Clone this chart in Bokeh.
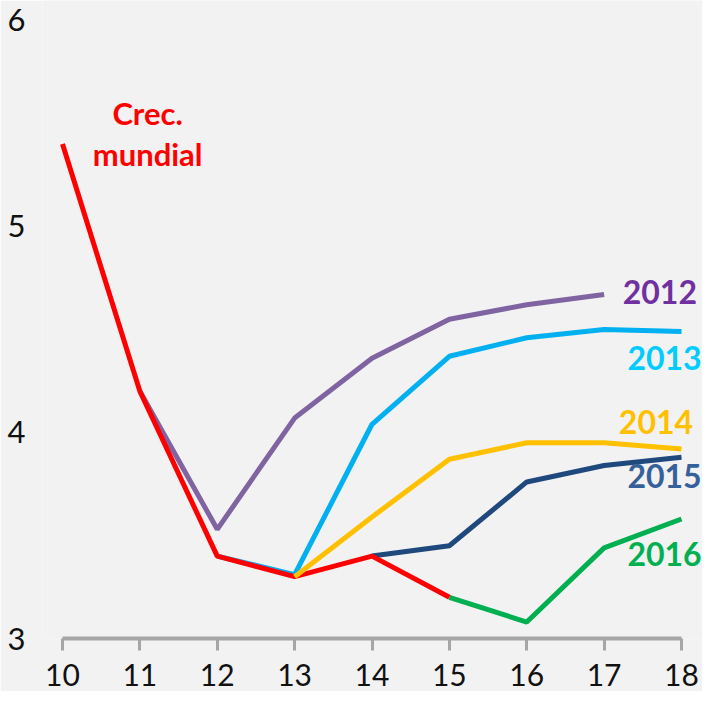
from bokeh.plotting import figure
from bokeh.models import Label, Range1d, FixedTicker
from bokeh.embed import file_html
from bokeh.resources import INLINE

# --- data ---
x_world = [10, 11, 12, 13, 14, 15]
y_world = [5.40, 4.20, 3.40, 3.30, 3.40, 3.20]

x_2012 = [11, 12, 13, 14, 15, 16, 17]
y_2012 = [4.20, 3.53, 4.07, 4.36, 4.55, 4.62, 4.67]

x_2013 = [12, 13, 14, 15, 16, 17, 18]
y_2013 = [3.40, 3.31, 4.04, 4.37, 4.46, 4.50, 4.49]

x_2014 = [13, 14, 15, 16, 17, 18]
y_2014 = [3.30, 3.59, 3.87, 3.95, 3.95, 3.92]

x_2015 = [14, 15, 16, 17, 18]
y_2015 = [3.40, 3.45, 3.76, 3.84, 3.88]

x_2016 = [15, 16, 17, 18]
y_2016 = [3.20, 3.08, 3.44, 3.58]

x_ticks = [10, 11, 12, 13, 14, 15, 16, 17, 18]
y_ticks = [3, 4, 5, 6]
series_names = ["2012", "2013", "2014", "2015", "2016"]
world_label = ["Crec.", "mundial"]

FONT = "Lato"
BG = "#F2F2F2"

p = figure(width=702, height=691, output_backend="svg", toolbar_location=None,
           x_range=Range1d(9.7415, 18.2714), y_range=Range1d(3.0, 6.097),
           min_border_left=42, min_border_right=0, min_border_top=0,
           min_border_bottom=53)
p.background_fill_color = BG
p.border_fill_color = BG
p.outline_line_color = None
p.xgrid.visible = False
p.ygrid.visible = False

# x axis
xa = p.xaxis[0]
xa.ticker = FixedTicker(ticks=x_ticks)
xa.bounds = (10, 18)
xa.axis_line_color = "#A6A6A6"
xa.axis_line_width = 4
xa.major_tick_line_color = "#A6A6A6"
xa.major_tick_line_width = 3
xa.major_tick_out = 12
xa.major_tick_in = 0
xa.minor_tick_line_color = None
xa.major_label_text_font = FONT
xa.major_label_text_font_size = "30px"
xa.major_label_text_color = "#111111"
xa.major_label_standoff = 13

# y axis
ya = p.yaxis[0]
ya.ticker = FixedTicker(ticks=y_ticks)
ya.axis_line_color = None
ya.major_tick_line_color = None
ya.minor_tick_line_color = None
ya.major_label_text_font = FONT
ya.major_label_text_font_size = "31px"
ya.major_label_text_color = "#111111"
ya.major_label_standoff = 11

LW = 5
p.line(x_2012, y_2012, line_color="#8064A2", line_width=LW)
p.line(x_2013, y_2013, line_color="#00B0F0", line_width=LW)
p.line(x_2015, y_2015, line_color="#1F497D", line_width=LW)
p.line(x_2016, y_2016, line_color="#00B050", line_width=LW)
p.line(x_world, y_world, line_color="#FF0000", line_width=LW)
p.line(x_2014, y_2014, line_color="#FFC000", line_width=LW)

label_specs = [
    (series_names[0], 17.72, 4.68, "#7030A0", "center"),
    (series_names[1], 18.26, 4.36, "#00CCFF", "right"),
    (series_names[2], 17.67, 4.05, "#FFC000", "center"),
    (series_names[3], 18.26, 3.79, "#36609A", "right"),
    (series_names[4], 18.26, 3.41, "#00B050", "right"),
]
for txt, lx, ly, col, align in label_specs:
    p.add_layout(Label(x=lx, y=ly, text=txt, text_color=col, text_font=FONT,
                       text_font_style="bold", text_font_size="32px",
                       text_align=align, text_baseline="middle"))

p.add_layout(Label(x=11.10, y=5.55, text=world_label[0], text_color="#FF0000",
                   text_font=FONT, text_font_style="bold", text_font_size="31px",
                   text_align="center", text_baseline="middle"))
p.add_layout(Label(x=11.10, y=5.35, text=world_label[1], text_color="#FF0000",
                   text_font=FONT, text_font_style="bold", text_font_size="31px",
                   text_align="center", text_baseline="middle"))

open("out.html", "w").write(file_html(p, INLINE))
